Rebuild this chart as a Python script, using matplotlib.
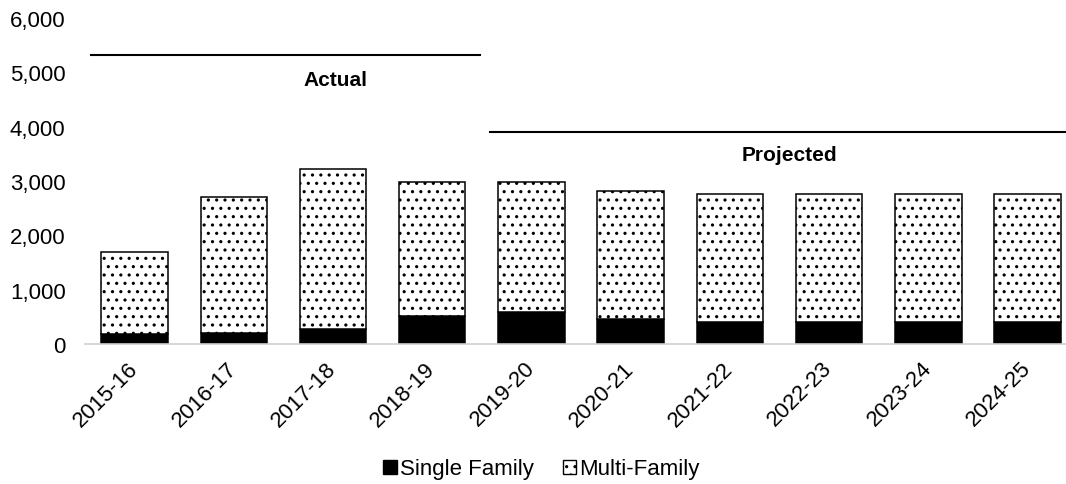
import matplotlib.pyplot as plt
from matplotlib.patches import Patch
from matplotlib.ticker import FuncFormatter

plt.rcParams["font.family"] = ["Liberation Sans", "DejaVu Sans"]
plt.rcParams["hatch.linewidth"] = 1.1

years = ["2015-16", "2016-17", "2017-18", "2018-19", "2019-20",
         "2020-21", "2021-22", "2022-23", "2023-24", "2024-25"]
single_family = [180, 210, 275, 520, 580, 460, 400, 400, 400, 400]
total = [1700, 2700, 3225, 2980, 2980, 2825, 2765, 2765, 2765, 2765]
multi_family = [t - s for t, s in zip(total, single_family)]

fig = plt.figure(figsize=(10.66, 4.85), dpi=100)
ax = fig.add_axes([85 / 1066, 140 / 485, 981 / 1066, 326 / 485])

x = range(len(years))
w = 0.67
ax.bar(x, single_family, w, color="black", edgecolor="black", linewidth=1.1,
       label="Single Family")
ax.bar(x, multi_family, w, bottom=single_family, color="white",
       edgecolor="black", linewidth=1.1, hatch="..", label="Multi-Family")

# period brackets
ax.plot([-0.44, 3.48], [5320, 5320], color="black", lw=1.5, clip_on=False)
ax.text(2.02, 4870, "Actual", ha="center", va="center",
        fontsize=15, fontweight="bold")
ax.plot([3.58, 9.5], [3910, 3910], color="black", lw=1.5)
ax.text(6.6, 3480, "Projected", ha="center", va="center",
        fontsize=15, fontweight="bold")

ax.set_ylim(0, 6000)
ax.set_xlim(-0.5, 9.388)
ax.set_yticks(range(0, 6001, 1000))
ax.yaxis.set_major_formatter(FuncFormatter(lambda v, p: f"{int(v):,}"))
ax.set_xticks(list(x))
ax.set_xticklabels(years, rotation=45, ha="right", va="center",
                   rotation_mode="anchor")
ax.tick_params(axis="both", length=0, labelsize=16)
ax.tick_params(axis="y", pad=14)
ax.tick_params(axis="x", pad=15)

for s in ["top", "right", "left"]:
    ax.spines[s].set_visible(False)
ax.spines["bottom"].set_color("#d0d0d0")
ax.spines["bottom"].set_linewidth(1.2)

handles = [Patch(facecolor="black", edgecolor="black"),
           Patch(facecolor="white", edgecolor="black", hatch="..")]
fig.legend(handles, ["Single Family", "Multi-Family"], loc="center",
           bbox_to_anchor=(0.508, 15 / 485), ncol=2, frameon=False,
           fontsize=16, handlelength=0.6, handleheight=0.6,
           handletextpad=0.15, columnspacing=1.3)

fig.savefig("out.png", dpi=100)
